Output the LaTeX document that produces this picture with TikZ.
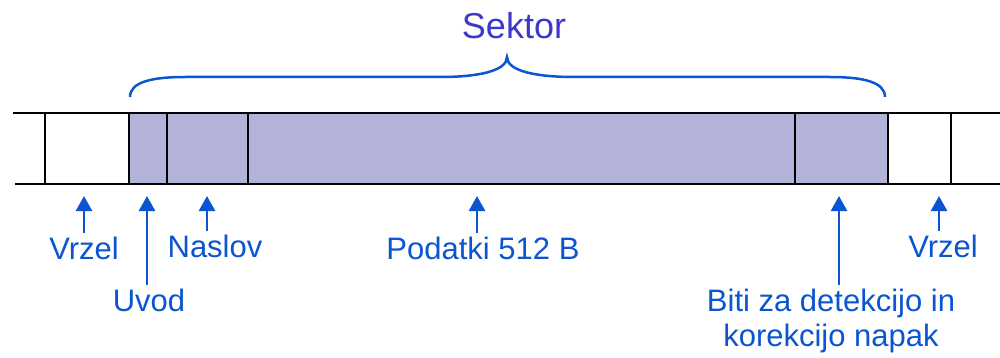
\documentclass[tikz,border=0pt]{standalone}
\usepackage{fontspec}
\setmainfont{Liberation Sans}
\usetikzlibrary{arrows.meta}

\definecolor{sectorfill}{RGB}{179,179,217}
\definecolor{notecolor}{RGB}{10,85,208}
\definecolor{titlecolor}{RGB}{60,55,205}

\tikzset{
	note/.style={text=notecolor,font=\fontsize{15.5}{17.5}\selectfont,inner sep=2pt,align=center,anchor=north},
	pointer/.style={draw=notecolor,line width=1.25pt,-{Triangle[length=7.5pt,width=8pt]}},
	track/.style={line width=1pt},
}

\begin{document}
\begin{tikzpicture}[x=0.5pt,y=-0.5pt]
			\useasboundingbox (0,0) rectangle (1000,358);

			\fill[sectorfill] (129,113) rectangle (888,184);
			\draw[track] (13,113) -- (1000,113);
			\draw[track] (15,184) -- (1000,184);
			\foreach \x in {45,129,167,248,795,888,951}
				\draw[track] (\x,113) -- (\x,184);

			\node[text=titlecolor,font=\fontsize{18}{20}\selectfont,anchor=base] (sektor) at (514,39) {Sektor};
			\draw[notecolor,line width=1.25pt]
				(130,97) .. controls (130,82) and (152,77) .. (185,77) -- (440,77)
				.. controls (478,77) and (507,71) .. (507,57)
				.. controls (507,71) and (536,77) .. (574,77) -- (830,77)
				.. controls (863,77) and (885,82) .. (885,97);

			\coordinate (vrzelLtip) at (84,196);
			\coordinate (uvodtip) at (147,196);
			\coordinate (naslovtip) at (207,196);
			\coordinate (podatkitip) at (477,196);
			\coordinate (bititip) at (839,196);
			\coordinate (vrzelRtip) at (939,196);

			\node[note] (vrzelL) at (84,233) {Vrzel};
			\node[note] (uvod) at (149,285) {Uvod};
			\node[note] (naslov) at (215,231) {Naslov};
			\node[note] (podatki) at (483,233) {Podatki 512 B};
			\node[note] (biti) at (831,285) {Biti za detekcijo in\\korekcijo napak};
			\node[note] (vrzelR) at (943,231) {Vrzel};

			\draw[pointer] (vrzelL.north -| vrzelLtip) -- (vrzelLtip);
			\draw[pointer] (uvod.north -| uvodtip) -- (uvodtip);
			\draw[pointer] (naslov.north -| naslovtip) -- (naslovtip);
			\draw[pointer] (podatki.north -| podatkitip) -- (podatkitip);
			\draw[pointer] (biti.north -| bititip) -- (bititip);
			\draw[pointer] (vrzelR.north -| vrzelRtip) -- (vrzelRtip);
		\end{tikzpicture}
\end{document}
